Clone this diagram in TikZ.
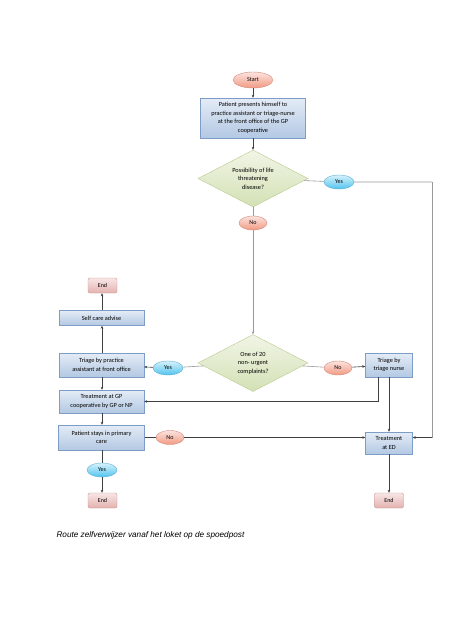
\documentclass[tikz,border=0pt]{standalone}
\usepackage{fontspec}
\setmainfont{Carlito}
\newfontfamily\capfont{Liberation Sans}
\usetikzlibrary{shapes.geometric,arrows.meta}

\definecolor{boxtop}{HTML}{E4ECF6}
\definecolor{boxbot}{HTML}{B3C8E3}
\definecolor{boxline}{HTML}{7D9CC6}
\definecolor{redtop}{HTML}{FBE3DF}
\definecolor{redbot}{HTML}{F29A82}
\definecolor{redline}{HTML}{D28A7C}
\definecolor{bluetop}{HTML}{D6F1FB}
\definecolor{bluebot}{HTML}{52C4EE}
\definecolor{blueline}{HTML}{5AAFD3}
\definecolor{endtop}{HTML}{F8E6E6}
\definecolor{endbot}{HTML}{E3B1AF}
\definecolor{endline}{HTML}{C99492}
\definecolor{dtop}{HTML}{F1F5E6}
\definecolor{dbot}{HTML}{D3E1B5}
\definecolor{dline}{HTML}{B8CB8E}

\tikzset{
  flowbox/.style={rectangle,draw=boxline,top color=boxtop,bottom color=boxbot,
    align=center,inner sep=1pt,font=\fontsize{6.3}{8.6}\selectfont},
  question/.style={diamond,draw=dline,top color=dtop,bottom color=dbot,align=center,
    inner sep=0pt,aspect=1.93,minimum width=110pt,minimum height=57pt,
    font=\fontsize{6.3}{8.6}\selectfont},
  noball/.style={ellipse,draw=redline,top color=redtop,bottom color=redbot,
    inner sep=0pt,minimum width=28pt,minimum height=14pt,font=\fontsize{6}{7}\selectfont},
  yesball/.style={ellipse,draw=blueline,top color=bluetop,bottom color=bluebot,
    inner sep=0pt,minimum width=30pt,minimum height=14pt,font=\fontsize{6}{7}\selectfont},
  endbox/.style={rectangle,rounded corners=2pt,draw=endline,top color=endtop,bottom color=endbot,
    minimum width=29pt,minimum height=15pt,inner sep=0pt,font=\fontsize{6}{7}\selectfont},
  link/.style={draw=black!75,line width=0.6pt},
  paleline/.style={draw=black!40,line width=0.6pt},
  tip/.style={-{Stealth[length=3pt,width=2.6pt]}}
}

\begin{document}
\begin{tikzpicture}[x=1pt,y=-1pt]
\useasboundingbox[fill=white] (0,0) rectangle (453,640);

\node [noball, minimum width=40pt, minimum height=16pt] (start) at (253,80) {Start};
\node [flowbox, minimum width=105pt, minimum height=40pt] (present) at (253,118) {Patient presents himself to\\practice assistant or triage-nurse\\at the front office of the GP\\cooperative};
\node [question] (life) at (253,178.5) {Possibility of life\\threatening\\disease?};
\node [yesball] (yes1) at (339,182) {Yes};
\node [noball] (no1) at (253,223) {No};
\node [question] (urgent) at (253,363) {One of 20\\non- urgent\\complaints?};
\node [yesball] (yes2) at (168,368) {Yes};
\node [noball] (no2) at (338,368) {No};

\node [flowbox, minimum width=47pt, minimum height=24pt] (nurse) at (389,365) {Triage by\\triage nurse};
\node [flowbox, minimum width=85pt, minimum height=24pt] (assist) at (101.5,365) {Triage by practice\\assistant at front office};
\node [flowbox, minimum width=85pt, minimum height=15pt] (selfcare) at (101.5,318) {Self care advise};
\node [endbox] (endA) at (102.5,285.5) {End};
\node [flowbox, minimum width=85pt, minimum height=23pt] (gpcare) at (101.5,401.5) {Treatment at GP\\cooperative by GP or NP};
\node [flowbox, minimum width=86pt, minimum height=25pt] (stays) at (101.5,437.5) {Patient stays in primary\\care};
\node [noball] (no3) at (170,437.5) {No};
\node [yesball] (yes3) at (102,470) {Yes};
\node [endbox] (endB) at (102.5,500.5) {End};
\node [flowbox, minimum width=47pt, minimum height=22pt] (ed) at (389,443) {Treatment\\at ED};
\node [endbox] (endC) at (389,500.5) {End};

\coordinate (rightbend) at (432,182);

\draw [link, tip] (start) -- (present);
\draw [link, tip] (present) -- (life);
\draw [paleline] (life) -- (yes1) -- (rightbend);
\draw [paleline] (rightbend) -- (rightbend |- no3);
\draw [link, tip] (rightbend |- no3) -- (no3 -| ed.east);
\draw [paleline] (life) -- (no1);
\draw [paleline, tip] (no1) -- (urgent);
\draw [paleline] (urgent) -- (yes2);
\draw [link, tip] (yes2) -- (assist);
\draw [paleline] (urgent) -- (no2);
\draw [link, tip] (no2) -- (nurse);
\draw [link, tip] (selfcare.north -| yes3) -- (endA.south -| yes3);
\draw [link, tip] (assist.north -| yes3) -- (selfcare.south -| yes3);
\draw [link, tip] (assist.south -| yes3) -- (gpcare.north -| yes3);
\draw [link, tip] ([xshift=-11pt]nurse.south) |- (gpcare.east);
\draw [link, tip] (nurse) -- (ed);
\draw [link, tip] (gpcare.south -| yes3) -- (stays.north -| yes3);
\draw [link] (stays) -- (no3);
\draw [link, tip] (no3) -- (no3 -| ed.west);
\draw [link] (stays.south -| yes3) -- (yes3);
\draw [link, tip] (yes3) -- (endB.north -| yes3);
\draw [link, tip] (ed) -- (endC);

\node [anchor=west, font=\capfont\itshape\fontsize{8.2}{9}\selectfont] (caption) at (53,535) {Route zelfverwijzer vanaf het loket op de spoedpost};
\end{tikzpicture}
\end{document}
